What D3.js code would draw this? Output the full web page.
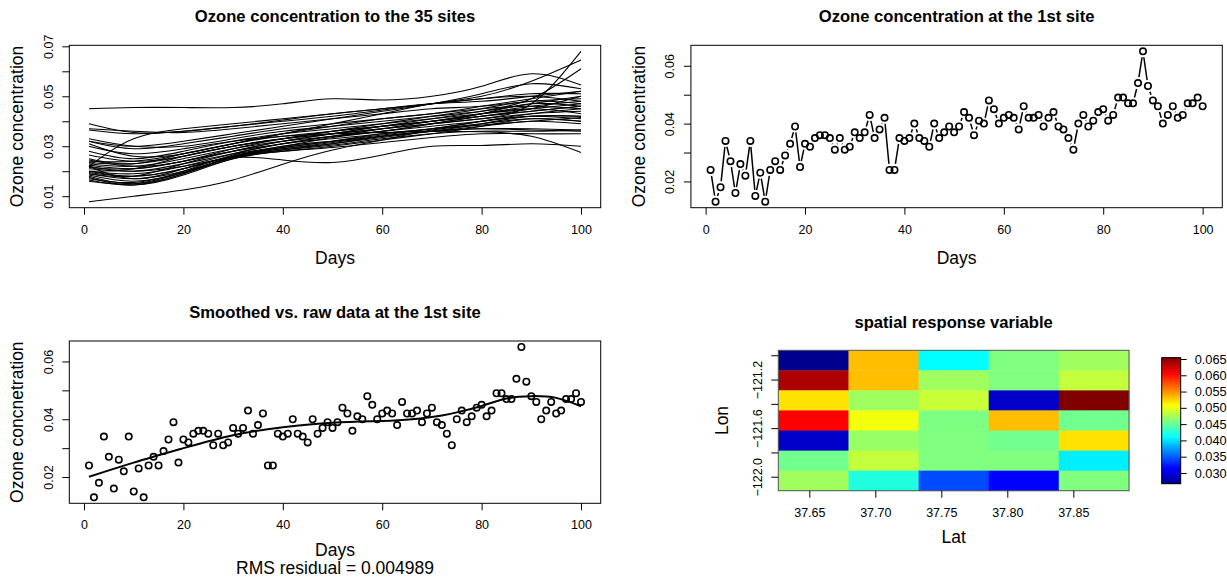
<!DOCTYPE html>
<html>
<meta charset="utf-8">
<style>
  body { margin: 0; background: #fff; }
  svg { font-family: "Liberation Sans", Arial, sans-serif; }
  .frame { fill: none; stroke: #000; stroke-width: 1; }
  .site { fill: none; stroke: #000; stroke-width: 1.1; }
  .pt { fill: none; stroke: #000; stroke-width: 1.6; }
  .seg { stroke: #000; stroke-width: 1.5; }
  .smooth { fill: none; stroke: #000; stroke-width: 2; }
  .title { font-weight: bold; font-size: 16.6px; text-anchor: middle; }
  .lab { font-size: 17.5px; text-anchor: middle; }
</style>
<body>
<script src="https://d3js.org/d3.v7.min.js"></script>
<script>
  let width = 1227,
    height = 581;

  // ---- data ----
  let days = d3.range(1, 101);

  let site1 = [
    0.024, 0.013, 0.018, 0.034, 0.027, 0.016, 0.026, 0.022, 0.034, 0.015,
    0.023, 0.013, 0.024, 0.027, 0.024, 0.029, 0.033, 0.039, 0.025, 0.033,
    0.032, 0.035, 0.036, 0.036, 0.035, 0.031, 0.035, 0.031, 0.032, 0.037,
    0.035, 0.037, 0.043, 0.035, 0.038, 0.042, 0.024, 0.024, 0.035, 0.034,
    0.035, 0.040, 0.035, 0.034, 0.032, 0.040, 0.035, 0.037, 0.039, 0.037,
    0.039, 0.044, 0.042, 0.036, 0.041, 0.040, 0.048, 0.045, 0.040, 0.042,
    0.043, 0.042, 0.038, 0.046, 0.042, 0.042, 0.043, 0.039, 0.042, 0.044,
    0.039, 0.038, 0.035, 0.031, 0.040, 0.043, 0.039, 0.041, 0.044, 0.045,
    0.041, 0.043, 0.049, 0.049, 0.047, 0.047, 0.054, 0.065, 0.053, 0.048,
    0.046, 0.040, 0.043, 0.046, 0.042, 0.043, 0.047, 0.047, 0.049, 0.046
  ];

  // smoothed curves of the 35 sites, read at these days
  let knotDays = [1, 10, 20, 30, 40, 50, 60, 70, 80, 90, 100];
  let siteCurves = [
    [0.0450, 0.0455, 0.0455, 0.0455, 0.0470, 0.0490, 0.0485, 0.0500, 0.0540, 0.0590, 0.0545],
    [0.0078, 0.0100, 0.0125, 0.0165, 0.0228, 0.0285, 0.0325, 0.0365, 0.0385, 0.0400, 0.0415],
    [0.0220, 0.0170, 0.0210, 0.0255, 0.0245, 0.0235, 0.0265, 0.0300, 0.0303, 0.0310, 0.0300],
    [0.0300, 0.0270, 0.0290, 0.0320, 0.0340, 0.0350, 0.0355, 0.0360, 0.0358, 0.0340, 0.0275],
    [0.0200, 0.0210, 0.0260, 0.0300, 0.0330, 0.0350, 0.0370, 0.0390, 0.0410, 0.0470, 0.0680],
    [0.0240, 0.0240, 0.0270, 0.0310, 0.0350, 0.0390, 0.0430, 0.0470, 0.0500, 0.0560, 0.0645],
    [0.0190, 0.0180, 0.0230, 0.0280, 0.0320, 0.0350, 0.0380, 0.0410, 0.0440, 0.0490, 0.0610],
    [0.0320, 0.0300, 0.0320, 0.0350, 0.0380, 0.0410, 0.0440, 0.0470, 0.0510, 0.0550, 0.0530],
    [0.0220, 0.0330, 0.0370, 0.0390, 0.0410, 0.0430, 0.0450, 0.0470, 0.0490, 0.0510, 0.0510],
    [0.0390, 0.0355, 0.0360, 0.0380, 0.0405, 0.0430, 0.0450, 0.0470, 0.0480, 0.0500, 0.0520],
    [0.0370, 0.0360, 0.0355, 0.0370, 0.0390, 0.0410, 0.0430, 0.0450, 0.0460, 0.0480, 0.0490],
    [0.0365, 0.0350, 0.0360, 0.0380, 0.0400, 0.0420, 0.0445, 0.0470, 0.0490, 0.0500, 0.0480],
    [0.0330, 0.0300, 0.0300, 0.0330, 0.0360, 0.0380, 0.0400, 0.0420, 0.0440, 0.0470, 0.0500],
    [0.0320, 0.0290, 0.0310, 0.0340, 0.0370, 0.0390, 0.0410, 0.0430, 0.0450, 0.0460, 0.0450],
    [0.0310, 0.0260, 0.0270, 0.0310, 0.0340, 0.0360, 0.0380, 0.0400, 0.0420, 0.0440, 0.0460],
    [0.0280, 0.0250, 0.0280, 0.0320, 0.0350, 0.0370, 0.0390, 0.0410, 0.0430, 0.0450, 0.0470],
    [0.0265, 0.0240, 0.0260, 0.0300, 0.0330, 0.0350, 0.0370, 0.0390, 0.0410, 0.0430, 0.0440],
    [0.0245, 0.0220, 0.0240, 0.0290, 0.0330, 0.0360, 0.0380, 0.0400, 0.0430, 0.0460, 0.0480],
    [0.0230, 0.0220, 0.0250, 0.0290, 0.0320, 0.0340, 0.0360, 0.0380, 0.0400, 0.0420, 0.0420],
    [0.0225, 0.0210, 0.0240, 0.0280, 0.0310, 0.0340, 0.0360, 0.0390, 0.0420, 0.0450, 0.0500],
    [0.0220, 0.0200, 0.0230, 0.0270, 0.0310, 0.0330, 0.0350, 0.0370, 0.0390, 0.0410, 0.0400],
    [0.0215, 0.0210, 0.0240, 0.0280, 0.0320, 0.0350, 0.0380, 0.0400, 0.0430, 0.0470, 0.0460],
    [0.0210, 0.0200, 0.0220, 0.0260, 0.0300, 0.0320, 0.0340, 0.0360, 0.0380, 0.0400, 0.0390],
    [0.0200, 0.0190, 0.0220, 0.0270, 0.0310, 0.0340, 0.0370, 0.0400, 0.0430, 0.0450, 0.0430],
    [0.0200, 0.0180, 0.0210, 0.0260, 0.0290, 0.0310, 0.0340, 0.0360, 0.0370, 0.0370, 0.0365],
    [0.0195, 0.0180, 0.0210, 0.0260, 0.0295, 0.0320, 0.0350, 0.0370, 0.0400, 0.0420, 0.0410],
    [0.0190, 0.0170, 0.0200, 0.0255, 0.0290, 0.0315, 0.0340, 0.0360, 0.0370, 0.0365, 0.0360],
    [0.0185, 0.0160, 0.0195, 0.0255, 0.0285, 0.0305, 0.0330, 0.0350, 0.0360, 0.0360, 0.0365],
    [0.0180, 0.0150, 0.0190, 0.0260, 0.0295, 0.0320, 0.0345, 0.0370, 0.0400, 0.0430, 0.0450],
    [0.0175, 0.0145, 0.0185, 0.0250, 0.0285, 0.0310, 0.0335, 0.0360, 0.0390, 0.0420, 0.0420],
    [0.0170, 0.0155, 0.0200, 0.0265, 0.0300, 0.0335, 0.0360, 0.0390, 0.0420, 0.0440, 0.0460],
    [0.0165, 0.0145, 0.0190, 0.0250, 0.0280, 0.0295, 0.0315, 0.0335, 0.0350, 0.0350, 0.0350],
    [0.0160, 0.0150, 0.0195, 0.0255, 0.0280, 0.0300, 0.0325, 0.0350, 0.0380, 0.0410, 0.0400],
    [0.0235, 0.0230, 0.0260, 0.0300, 0.0330, 0.0360, 0.0390, 0.0420, 0.0450, 0.0480, 0.0470],
    [0.0250, 0.0230, 0.0270, 0.0310, 0.0350, 0.0380, 0.0410, 0.0430, 0.0460, 0.0490, 0.0520]
  ];

  // smoothed fit at the 1st site
  let smoothDays = [1, 10, 20, 30, 40, 50, 60, 66, 72, 76, 80, 85, 90, 95, 100];
  let smoothVals = [0.0201, 0.0250, 0.0300, 0.0345, 0.0372, 0.0388, 0.0394, 0.0400, 0.0413,
    0.0428, 0.0446, 0.0472, 0.0480, 0.0474, 0.0445];
  let rmsResidual = "0.004989";

  // spatial grid: rows from top (Lon -121.0) to bottom (Lon -122.1), columns by Lat
  let latBreaks = [37.6265, 37.6797, 37.7328, 37.7859, 37.8390, 37.8922];
  let lonBreaks = [-120.959, -121.124, -121.289, -121.454, -121.620, -121.785, -121.950, -122.115];
  let spatialGrid = [
    [0.0267, 0.0533, 0.0412, 0.0461, 0.0473],
    [0.0637, 0.0533, 0.0473, 0.0461, 0.0486],
    [0.0520, 0.0473, 0.0488, 0.0293, 0.0654],
    [0.0606, 0.0504, 0.0459, 0.0533, 0.0455],
    [0.0293, 0.0470, 0.0461, 0.0455, 0.0520],
    [0.0455, 0.0486, 0.0461, 0.0461, 0.0406],
    [0.0473, 0.0424, 0.0344, 0.0315, 0.0461]
  ];

  let dayTicks = [0, 20, 40, 60, 80, 100];
  let ozoneTicksAll = [0.01, 0.02, 0.03, 0.04, 0.05, 0.06, 0.07];
  let ozoneTicksSite = [0.02, 0.03, 0.04, 0.05, 0.06];
  let latTicks = [37.65, 37.70, 37.75, 37.80, 37.85];
  let lonTicks = [-122.0, -121.8, -121.6, -121.4, -121.2, -121.0];
  let lonLabelled = [-122.0, -121.6, -121.2];
  let barTicks = [0.030, 0.035, 0.040, 0.045, 0.050, 0.055, 0.060, 0.065];

  let svg = d3.select("body").append("svg")
    .attr("width", width)
    .attr("height", height);

  // R style: pad data range by 4%
  function padded(ext) {
    let p = (ext[1] - ext[0]) * 0.04;
    return [ext[0] - p, ext[1] + p];
  }

  function frame(box) {
    svg.append("rect")
      .attr("class", "frame")
      .attr("x", box.x0).attr("y", box.y0)
      .attr("width", box.x1 - box.x0).attr("height", box.y1 - box.y0);
  }

  function bottomAxis(x, box, ticks, fmt) {
    svg.append("g")
      .attr("transform", `translate(0,${box.y1})`)
      .call(d3.axisBottom(x).tickValues(ticks).tickSize(7).tickPadding(10).tickFormat(fmt))
      .call(g => g.select(".domain").remove())
      .call(g => g.selectAll("text").attr("font-size", 12.5).attr("font-family", null).attr("fill", "#000"));
  }

  function leftAxis(y, box, ticks, labelled, fmt) {
    svg.append("g")
      .attr("transform", `translate(${box.x0},0)`)
      .call(d3.axisLeft(y).tickValues(ticks).tickSize(7)
        .tickFormat(d => labelled.some(v => Math.abs(v - d) < 1e-9) ? fmt(d) : ""))
      .call(g => g.select(".domain").remove())
      .call(g => g.selectAll("text")
        .attr("font-size", 12.5).attr("font-family", null).attr("fill", "#000")
        .attr("transform", "rotate(-90)")
        .attr("x", 0).attr("y", -16.5).attr("dy", null)
        .attr("text-anchor", "middle"));
  }

  function texts(box, title, ylab, xlabY, titleY) {
    svg.append("text").attr("class", "title")
      .attr("x", (box.x0 + box.x1) / 2).attr("y", titleY).text(title);
    svg.append("text").attr("class", "lab")
      .attr("x", (box.x0 + box.x1) / 2).attr("y", xlabY).text("Days");
    svg.append("text").attr("class", "lab")
      .attr("transform", `translate(${box.x0 - 46},${(box.y0 + box.y1) / 2}) rotate(-90)`)
      .text(ylab);
  }

  // ---- panel 1: all sites ----
  function drawAllSites() {
    let box = { x0: 69.3, x1: 600.7, y0: 45.3, y1: 207.7 };
    let x = d3.scaleLinear(padded([1, 100]), [box.x0, box.x1]);
    let y = d3.scaleLinear(padded(d3.extent(siteCurves.flat())), [box.y1, box.y0]);
    let line = d3.line()
      .x((d, i) => x(knotDays[i]))
      .y(d => y(d))
      .curve(d3.curveNatural);

    svg.append("g").selectAll("path")
      .data(siteCurves)
      .join("path")
      .attr("class", "site")
      .attr("d", line);

    frame(box);
    bottomAxis(x, box, dayTicks, d3.format("d"));
    leftAxis(y, box, ozoneTicksAll, [0.01, 0.03, 0.05, 0.07], d3.format(".2f"));
    texts(box, "Ozone concentration to the 35 sites", "Ozone concentration", 263.5, 21.5);
  }

  // ---- panel 2: raw data at site 1, type "b" ----
  function drawSite() {
    let box = { x0: 690.9, x1: 1222.3, y0: 45.3, y1: 207.7 };
    let x = d3.scaleLinear(padded([1, 100]), [box.x0, box.x1]);
    let y = d3.scaleLinear(padded(d3.extent(site1)), [box.y1, box.y0]);
    let gap = 6;
    let segs = [];
    for (let i = 0; i < site1.length - 1; i++) {
      let ax = x(days[i]), ay = y(site1[i]), bx = x(days[i + 1]), by = y(site1[i + 1]);
      let len = Math.hypot(bx - ax, by - ay);
      if (len > 2 * gap) {
        let ux = (bx - ax) / len, uy = (by - ay) / len;
        segs.push([ax + ux * gap, ay + uy * gap, bx - ux * gap, by - uy * gap]);
      }
    }
    svg.append("g").selectAll("line")
      .data(segs)
      .join("line")
      .attr("class", "seg")
      .attr("x1", d => d[0]).attr("y1", d => d[1])
      .attr("x2", d => d[2]).attr("y2", d => d[3]);

    svg.append("g").selectAll("circle")
      .data(site1)
      .join("circle")
      .attr("class", "pt")
      .attr("cx", (d, i) => x(days[i]))
      .attr("cy", d => y(d))
      .attr("r", 3.2);

    frame(box);
    bottomAxis(x, box, dayTicks, d3.format("d"));
    leftAxis(y, box, ozoneTicksSite, [0.02, 0.04, 0.06], d3.format(".2f"));
    texts(box, "Ozone concentration at the 1st site", "Ozone concentration", 263.5, 21.5);
  }

  // ---- panel 3: smoothed vs raw ----
  function drawSmooth() {
    let box = { x0: 69.3, x1: 600.7, y0: 341, y1: 503.3 };
    let x = d3.scaleLinear(padded([1, 100]), [box.x0, box.x1]);
    let y = d3.scaleLinear(padded(d3.extent(site1)), [box.y1, box.y0]);

    svg.append("g").selectAll("circle")
      .data(site1)
      .join("circle")
      .attr("class", "pt")
      .attr("cx", (d, i) => x(days[i]))
      .attr("cy", d => y(d))
      .attr("r", 3.2);

    svg.append("path")
      .datum(smoothVals)
      .attr("class", "smooth")
      .attr("d", d3.line()
        .x((d, i) => x(smoothDays[i]))
        .y(d => y(d))
        .curve(d3.curveNatural));

    frame(box);
    bottomAxis(x, box, dayTicks, d3.format("d"));
    leftAxis(y, box, ozoneTicksSite, [0.02, 0.04, 0.06], d3.format(".2f"));
    texts(box, "Smoothed vs. raw data at the 1st site", "Ozone concnetration", 555.5, 317.5);
    svg.append("text").attr("class", "lab")
      .attr("x", (box.x0 + box.x1) / 2).attr("y", 574)
      .text("RMS residual = " + rmsResidual);
  }

  // ---- panel 4: spatial image ----
  function drawSpatial() {
    let box = { x0: 778.3, x1: 1129, y0: 350.3, y1: 490.7 };
    let bar = { x0: 1161.7, x1: 1180.7, y0: 357.7, y1: 483.7 };
    let x = d3.scaleLinear([latBreaks[0], latBreaks[latBreaks.length - 1]], [box.x0, box.x1]);
    let y = d3.scaleLinear([lonBreaks[lonBreaks.length - 1], lonBreaks[0]], [box.y1, box.y0]);
    let ext = d3.extent(spatialGrid.flat());
    let stops = [0, 0.125, 0.375, 0.625, 0.875, 1].map(t => ext[0] + t * (ext[1] - ext[0]));
    let color = d3.scaleLinear(stops, ["#00008F", "#0000FF", "#00FFFF", "#FFFF00", "#FF0000", "#800000"]);

    let cells = [];
    spatialGrid.forEach((row, r) => row.forEach((v, c) => cells.push({ r, c, v })));
    svg.append("g").selectAll("rect")
      .data(cells)
      .join("rect")
      .attr("x", d => x(latBreaks[d.c]))
      .attr("y", d => y(lonBreaks[d.r]))
      .attr("width", d => x(latBreaks[d.c + 1]) - x(latBreaks[d.c]) + 0.4)
      .attr("height", d => y(lonBreaks[d.r + 1]) - y(lonBreaks[d.r]) + 0.4)
      .attr("fill", d => color(d.v));

    svg.append("rect")
      .attr("x", box.x0).attr("y", box.y0)
      .attr("width", box.x1 - box.x0).attr("height", box.y1 - box.y0)
      .attr("fill", "none").attr("stroke", "#555");
    bottomAxis(x, box, latTicks, d3.format(".2f"));
    leftAxis(y, box, lonTicks, lonLabelled, d3.format(".1f"));

    // colour bar
    let yb = d3.scaleLinear(ext, [bar.y1, bar.y0]);
    let steps = d3.range(64).map(i => ext[0] + (i + 0.5) * (ext[1] - ext[0]) / 64);
    let h = (bar.y1 - bar.y0) / 64;
    svg.append("g").selectAll("rect")
      .data(steps)
      .join("rect")
      .attr("x", bar.x0)
      .attr("y", d => yb(d) - h / 2 - 0.3)
      .attr("width", bar.x1 - bar.x0)
      .attr("height", h + 0.6)
      .attr("fill", d => color(d));
    frame(bar);
    svg.append("g")
      .attr("transform", `translate(${bar.x1},0)`)
      .call(d3.axisRight(yb).tickValues(barTicks).tickSize(6).tickPadding(8).tickFormat(d3.format(".3f")))
      .call(g => g.select(".domain").remove())
      .call(g => g.selectAll("text").attr("font-size", 12.8).attr("font-family", null).attr("fill", "#000"));

    svg.append("text").attr("class", "title")
      .attr("x", (box.x0 + box.x1) / 2).attr("y", 328).text("spatial response variable");
    svg.append("text").attr("class", "lab")
      .attr("x", (box.x0 + box.x1) / 2).attr("y", 543).text("Lat");
    svg.append("text").attr("class", "lab")
      .attr("transform", `translate(${box.x0 - 50},${(box.y0 + box.y1) / 2}) rotate(-90)`)
      .text("Lon");
  }

  drawAllSites();
  drawSite();
  drawSmooth();
  drawSpatial();
</script>
</body>
</html>
